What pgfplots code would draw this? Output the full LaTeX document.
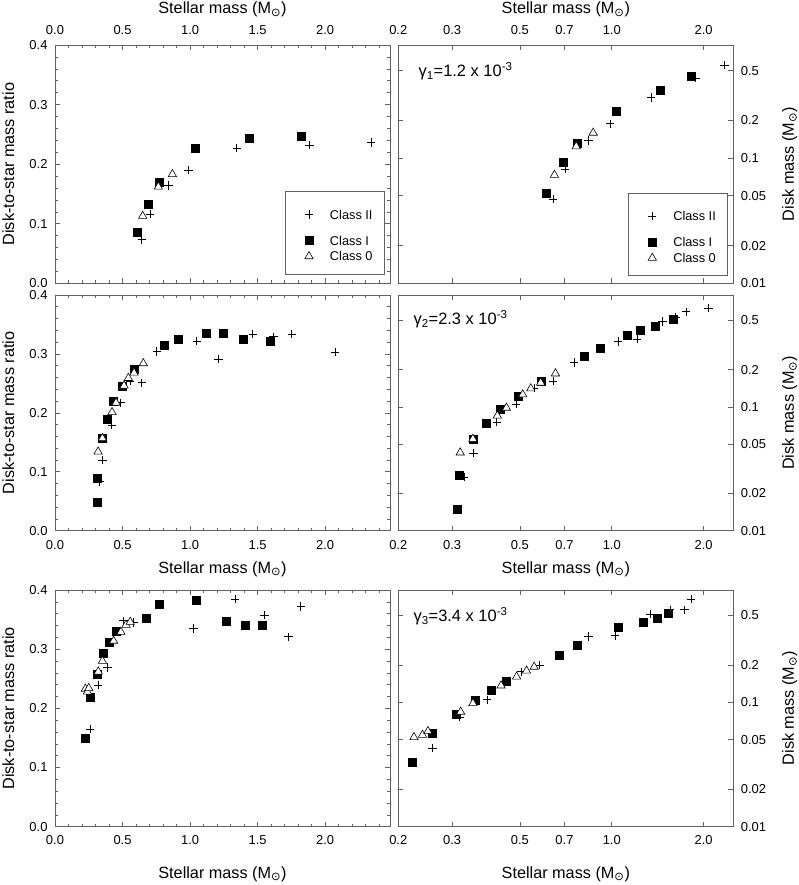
\documentclass[border=0pt]{standalone}
\usepackage{fontspec}
\setmainfont{Liberation Sans}
\newfontfamily\djv{DejaVu Sans}
\usepackage{pgfplots}
\pgfplotsset{compat=1.18}
\usepackage{pgfplotstable}

\newcommand{\msun}{M\textsubscript{\djv ⊙}}

% Row 1
\pgfplotstableread{
m r d
0.642 0.073 0.0469
0.704 0.116 0.0817
0.840 0.164 0.1378
0.988 0.190 0.1877
1.346 0.227 0.3055
1.884 0.232 0.4371
2.341 0.236 0.5525
}\aII
\pgfplotstableread{
m r d
0.612 0.085 0.0520
0.691 0.133 0.0919
0.773 0.169 0.1306
1.037 0.227 0.2354
1.437 0.244 0.3506
1.820 0.247 0.4495
}\aI
\pgfplotstableread{
m r d
0.649 0.113 0.0733
0.765 0.162 0.1239
0.869 0.183 0.1590
}\aO
% Row 2
\pgfplotstableread{
m r d
0.328 0.083 0.0272
0.353 0.120 0.0424
0.420 0.179 0.0752
0.486 0.217 0.1055
0.556 0.254 0.1412
0.642 0.251 0.1611
0.753 0.304 0.2289
1.049 0.322 0.3378
1.210 0.291 0.3521
1.464 0.334 0.4890
1.617 0.329 0.5320
1.753 0.334 0.5855
2.074 0.303 0.6284
}\bII
\pgfplotstableread{
m r d
0.311 0.048 0.0149
0.316 0.089 0.0281
0.351 0.157 0.0551
0.388 0.190 0.0737
0.432 0.220 0.0950
0.494 0.246 0.1215
0.588 0.274 0.1611
0.810 0.315 0.2552
0.914 0.325 0.2971
1.123 0.336 0.3773
1.242 0.335 0.4161
1.390 0.325 0.4518
1.593 0.321 0.5114
}\bI
\pgfplotstableread{
m r d
0.319 0.134 0.0427
0.351 0.157 0.0551
0.422 0.201 0.0848
0.452 0.217 0.0981
0.511 0.246 0.1257
0.543 0.259 0.1406
0.585 0.268 0.1568
0.654 0.284 0.1857
}\bO
% Row 3
\pgfplotstableread{
m r d
0.259 0.165 0.0427
0.318 0.239 0.0760
0.390 0.269 0.1049
0.506 0.348 0.1761
0.580 0.345 0.2001
0.839 0.403 0.3381
1.025 0.335 0.3434
1.333 0.385 0.5132
1.551 0.358 0.5553
1.728 0.321 0.5547
1.820 0.372 0.6770
}\cII
\pgfplotstableread{
m r d
0.222 0.149 0.0331
0.259 0.219 0.0567
0.309 0.258 0.0797
0.356 0.294 0.1047
0.404 0.312 0.1260
0.450 0.330 0.1485
0.674 0.352 0.2372
0.771 0.376 0.2899
1.048 0.383 0.4014
1.268 0.347 0.4400
1.405 0.340 0.4777
1.534 0.340 0.5216
}\cI
\pgfplotstableread{
m r d
0.225 0.233 0.0524
0.240 0.228 0.0547
0.250 0.234 0.0585
0.320 0.262 0.0838
0.351 0.280 0.0983
0.434 0.314 0.1363
0.488 0.329 0.1606
0.526 0.341 0.1794
0.557 0.346 0.1927
}\cO

\pgfplotsset{
  legimg/.style={legend image code/.code={%
    \path[draw=none,fill=none] (0bp,-4bp) rectangle (33bp,4bp);
    \draw[##1] plot coordinates {(14bp,0bp)};}},
  legimgfirst/.style={legend image code/.code={%
    \path[draw=none,fill=none] (0bp,10.8bp) rectangle (33bp,-15.4bp);
    \draw[##1] plot coordinates {(14bp,0bp)};}},
  panel/.style={
    scale only axis, width=335bp,
    axis line style={black!62, line width=0.8bp},
    every tick/.style={black!62, line width=0.6bp},
    tick align=inside, major tick length=5bp, minor tick length=3bp,
    tick label style={font=\fontsize{13}{15}\selectfont},
    label style={font=\fontsize{16.3}{19}\selectfont},
    legimg,
    legend cell align=left,
    legend style={draw=black!62, fill=white, line width=0.7bp,
      font=\fontsize{12.8}{14}\selectfont,
      inner xsep=9.5bp, inner ysep=12.4bp, row sep=5.4bp,
      nodes={inner xsep=2bp, inner ysep=0.5bp, text depth=}},
  },
  leftpanel/.style={panel,
    xmin=0, xmax=2.48, ymin=0, ymax=0.4,
    xtick={0,0.5,1,1.5,2}, xticklabels={0.0,0.5,1.0,1.5,2.0},
    minor xtick={0.1,0.2,...,2.45},
    ytick={0,0.1,0.2,0.3,0.4}, yticklabels={0.0,0.1,0.2,0.3,0.4},
    minor ytick={0.02,0.04,...,0.39},
    ylabel={Disk-to-star mass ratio},
    ylabel style={at={(axis description cs:-0.139,0.5)}, anchor=center},
    yticklabel style={xshift=-4bp},
    restrict y to domain=0:0.4,
  },
  rightpanel/.style={panel,
    xmin=0.2, xmax=2.5, ymin=0.01, ymax=0.8,
    xtick={0.2,0.3,0.5,0.7,1,2}, xticklabels={0.2,0.3,0.5,0.7,1.0,2.0},
    ytick={0.01,0.02,0.05,0.1,0.2,0.5}, yticklabels={0.01,0.02,0.05,0.1,0.2,0.5},
    yticklabel pos=right,
    ylabel={Disk mass (\msun)},
    ylabel style={at={(axis description cs:1.181,0.5)}, anchor=base},
    yticklabel style={xshift=4bp},
  },
  toprow/.style={xticklabel pos=upper, xtick pos=both, ytick pos=both,
    xlabel={Stellar mass (\msun)},
    xlabel style={at={(axis description cs:0.5,1.132)}, anchor=base},
    xticklabel style={yshift=7bp}},
  midrow/.style={xtick pos=both, ytick pos=both,
    xlabel={Stellar mass (\msun)},
    xlabel style={at={(axis description cs:0.5,-0.181)}, anchor=base},
    xticklabel style={yshift=-6bp}},
  botrow/.style={xtick pos=both, ytick pos=both,
    xlabel={Stellar mass (\msun)},
    xlabel style={at={(axis description cs:0.5,-0.218)}, anchor=base},
    xticklabel style={yshift=-5bp}},
  classII/.style={only marks, mark=+, mark size=4.2bp, black, line width=0.7bp},
  classI/.style={only marks, mark=square*, mark size=4bp, black},
  classO/.style={only marks, mark=triangle*, mark size=4.8bp, draw=black, fill=white, line width=0.6bp,
    mark options={fill=white}},
}

\begin{document}
\begin{tikzpicture}
\useasboundingbox (0,0) rectangle (799bp,885bp);

% ---------- Row 1 ----------
\begin{axis}[leftpanel, toprow, at={(55bp,601.7bp)}, anchor=south west, height=238.3bp,
  legend style={at={(axis description cs:0.687,0.038)}, anchor=south west}]
\addplot[classII, legimgfirst] table[x=m,y=r]{\aII};
\addplot[classI] table[x=m,y=r]{\aI};
\addplot[classO] table[x=m,y=r]{\aO};
\legend{Class II,Class I,Class 0}
\end{axis}
\begin{axis}[xmode=log, ymode=log, rightpanel, toprow, at={(398.3bp,601.7bp)}, anchor=south west, height=238.3bp,
  legend style={at={(axis description cs:0.687,0.031)}, anchor=south west}]
\addplot[classII, legimgfirst] table[x=m,y=d]{\aII};
\addplot[classI] table[x=m,y=d]{\aI};
\addplot[classO] table[x=m,y=d]{\aO};
\legend{Class II,Class I,Class 0}
\node[anchor=base west, font=\fontsize{16.5}{19}\selectfont] at (rel axis cs:0.05,0.867)
  {γ\textsubscript{1}=1.2 x 10\textsuperscript{-3}};
\end{axis}

% ---------- Row 2 ----------
\begin{axis}[leftpanel, midrow, at={(55bp,354.3bp)}, anchor=south west, height=235.7bp]
\addplot[classII] table[x=m,y=r]{\bII};
\addplot[classI] table[x=m,y=r]{\bI};
\addplot[classO] table[x=m,y=r]{\bO};
\end{axis}
\begin{axis}[xmode=log, ymode=log, rightpanel, midrow, at={(398.3bp,354.3bp)}, anchor=south west, height=235.7bp]
\addplot[classII] table[x=m,y=d]{\bII};
\addplot[classI] table[x=m,y=d]{\bI};
\addplot[classO] table[x=m,y=d]{\bO};
\node[anchor=base west, font=\fontsize{16.5}{19}\selectfont] at (rel axis cs:0.035,0.873)
  {γ\textsubscript{2}=2.3 x 10\textsuperscript{-3}};
\end{axis}

% ---------- Row 3 ----------
\begin{axis}[leftpanel, botrow, at={(55bp,58.3bp)}, anchor=south west, height=236.7bp]
\addplot[classII] table[x=m,y=r]{\cII};
\addplot[classI] table[x=m,y=r]{\cI};
\addplot[classO] table[x=m,y=r]{\cO};
\end{axis}
\begin{axis}[xmode=log, ymode=log, rightpanel, botrow, at={(398.3bp,58.3bp)}, anchor=south west, height=236.7bp]
\addplot[classII] table[x=m,y=d]{\cII};
\addplot[classI] table[x=m,y=d]{\cI};
\addplot[classO] table[x=m,y=d]{\cO};
\node[anchor=base west, font=\fontsize{16.5}{19}\selectfont] at (rel axis cs:0.035,0.866)
  {γ\textsubscript{3}=3.4 x 10\textsuperscript{-3}};
\end{axis}
\end{tikzpicture}
\end{document}
